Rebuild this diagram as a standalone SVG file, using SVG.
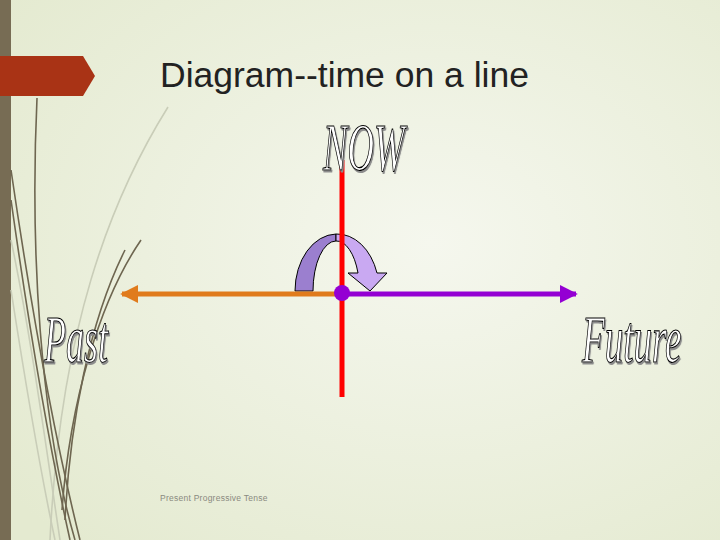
<svg xmlns="http://www.w3.org/2000/svg" width="720" height="540" viewBox="0 0 720 540">
<defs>
<radialGradient id="bg" cx="0.6" cy="0.45" r="0.75">
<stop offset="0" stop-color="#F5F7EE"/>
<stop offset="1" stop-color="#E4EAD0"/>
</radialGradient>
<filter id="shadow" x="-10%" y="-10%" width="130%" height="130%">
<feDropShadow dx="2" dy="2" stdDeviation="0.4" flood-color="#8C8C8C" flood-opacity="1"/>
</filter>
<marker id="headOrange" viewBox="0 0 10 10" refX="9" refY="5" markerWidth="3.6" markerHeight="3.6" orient="auto" markerUnits="strokeWidth">
<path d="M0,0 L10,5 L0,10 Z" fill="#E07B1C"/>
</marker>
<marker id="headPurple" viewBox="0 0 10 10" refX="9" refY="5" markerWidth="3.6" markerHeight="3.6" orient="auto" markerUnits="strokeWidth">
<path d="M0,0 L10,5 L0,10 Z" fill="#9400D3"/>
</marker>
</defs>
<style>
.wa{font-family:"Liberation Serif","DejaVu Serif",serif;font-style:italic;font-size:68px;fill:#fff;stroke:#000;stroke-width:1.2;filter:url(#shadow);}
.grass{fill:none;stroke:#6E6650;stroke-width:1.6;}
.grassl{fill:none;stroke:#C9CDB8;stroke-width:1.6;}
</style>
<rect x="0" y="0" width="720" height="540" fill="url(#bg)"/>
<g id="decoration">
<rect x="0" y="0" width="11" height="540" fill="#776C54"/>
<path class="grassl" d="M168,107 C110,200 60,330 50,540"/>
<path class="grassl" d="M11,240 C30,330 45,440 60,540"/>
<path class="grassl" d="M11,290 C25,380 40,470 55,540"/>
<path class="grass" d="M37,98 C30,250 40,420 75,540"/>
<path class="grass" d="M141,240 C100,300 70,400 62,510"/>
<path class="grass" d="M11,170 C30,300 55,440 80,540"/>
<path class="grass" d="M11,200 C28,320 50,450 70,540"/>
<path class="grass" d="M125,250 C90,320 70,420 65,520"/>
<path d="M0,56 L83,56 L95,76 L83,96 L0,96 Z" fill="#A93315"/>
</g>
<g id="title">
<text x="160" y="87" font-family="Liberation Sans, Arial, sans-serif" font-size="35.5" fill="#222">Diagram--time on a line</text>
</g>
<g id="footer">
<text x="160" y="501" font-family="Liberation Sans, Arial, sans-serif" font-size="8.5" letter-spacing="0.25" fill="#8A8A80">Present Progressive Tense</text>
</g>
<g id="curved-arrow" stroke="#000" stroke-width="1" stroke-linejoin="round">
<path d="M295,291 A42,57 0 0 1 336,234 L336,241 A23,50 0 0 0 313,291 Z" fill="#9B7FCF"/>
<path d="M336,234 A42,57 0 0 1 377,273 L387,273 L370,291 L348,273 L358,273 A23,50 0 0 0 336,241 Z" fill="#C9A9F2"/>
</g>
<g id="connectors">
<line id="now-line" x1="342" y1="160" x2="342" y2="397" stroke="#FF0000" stroke-width="5"/>
<line id="past-arrow" x1="340" y1="294" x2="122" y2="294" stroke="#E07B1C" stroke-width="5" marker-end="url(#headOrange)"/>
<line id="future-arrow" x1="344" y1="294" x2="576" y2="294" stroke="#9400D3" stroke-width="5" marker-end="url(#headPurple)"/>
</g>
<g id="now-point">
<circle cx="342" cy="293" r="8" fill="#9400D3"/>
</g>
<g id="now-label">
<text class="wa" transform="translate(323,170) scale(0.54,1)">NOW</text>
</g>
<g id="past-label">
<text class="wa" transform="translate(44,362) scale(0.53,1)" font-size="66">Past</text>
</g>
<g id="future-label">
<text class="wa" transform="translate(582,362) scale(0.545,1)" font-size="66">Future</text>
</g>
</svg>
